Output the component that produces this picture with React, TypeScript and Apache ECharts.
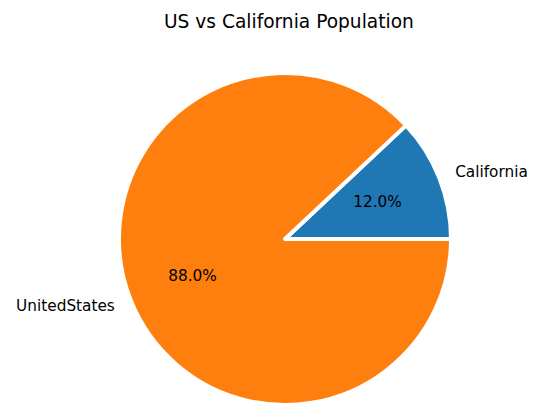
import React, { useEffect, useRef } from "react";
import * as echarts from "echarts";

const categories = ["California", "UnitedStates"];
const values = [12, 88];
const colors = ["#1f77b4", "#ff7f0e"];
const titleText = "US vs California Population";

export default function App() {
  const ref = useRef<HTMLDivElement>(null);
  useEffect(() => {
    if (!ref.current) return;
    const chart = echarts.init(ref.current, undefined, { renderer: "svg" });
    const R = 166;
    const data = categories.map((name, i) => ({
      name,
      value: values[i],
      itemStyle: { color: colors[i] },
    }));
    chart.setOption({
      animation: false,
      title: {
        text: titleText,
        left: 159,
        top: 7,
        textStyle: {
          fontFamily: "DejaVu Sans",
          fontSize: 18.6,
          fontWeight: "normal",
          color: "#000",
        },
      },
      series: [
        {
          type: "pie",
          center: [285, 239],
          radius: [0, R],
          startAngle: 0,
          clockwise: false,
          avoidLabelOverlap: false,
          silent: true,
          data,
          itemStyle: { borderColor: "#fff", borderWidth: 4 },
          label: {
            show: true,
            position: "outside",
            formatter: "{b}",
            fontFamily: "DejaVu Sans",
            fontSize: 15.3,
            color: "#000",
            distanceToLabelLine: 0,
          },
          labelLine: { show: false, length: 17, length2: 0 },
        },
        {
          type: "pie",
          center: [285, 239],
          radius: [27, R],
          startAngle: 0,
          clockwise: false,
          avoidLabelOverlap: false,
          silent: true,
          data: categories.map((name, i) => ({ name, value: values[i] })),
          itemStyle: { color: "rgba(0,0,0,0)" },
          label: {
            show: true,
            position: "inside",
            formatter: (p: any) => p.percent.toFixed(1) + "%",
            fontFamily: "DejaVu Sans",
            fontSize: 15.3,
            color: "#000",
          },
          labelLine: { show: false },
        },
      ],
    });
    return () => chart.dispose();
  }, []);
  return <div ref={ref} style={{ width: 538, height: 415, position: "absolute", left: 0, top: 0 }} />;
}
